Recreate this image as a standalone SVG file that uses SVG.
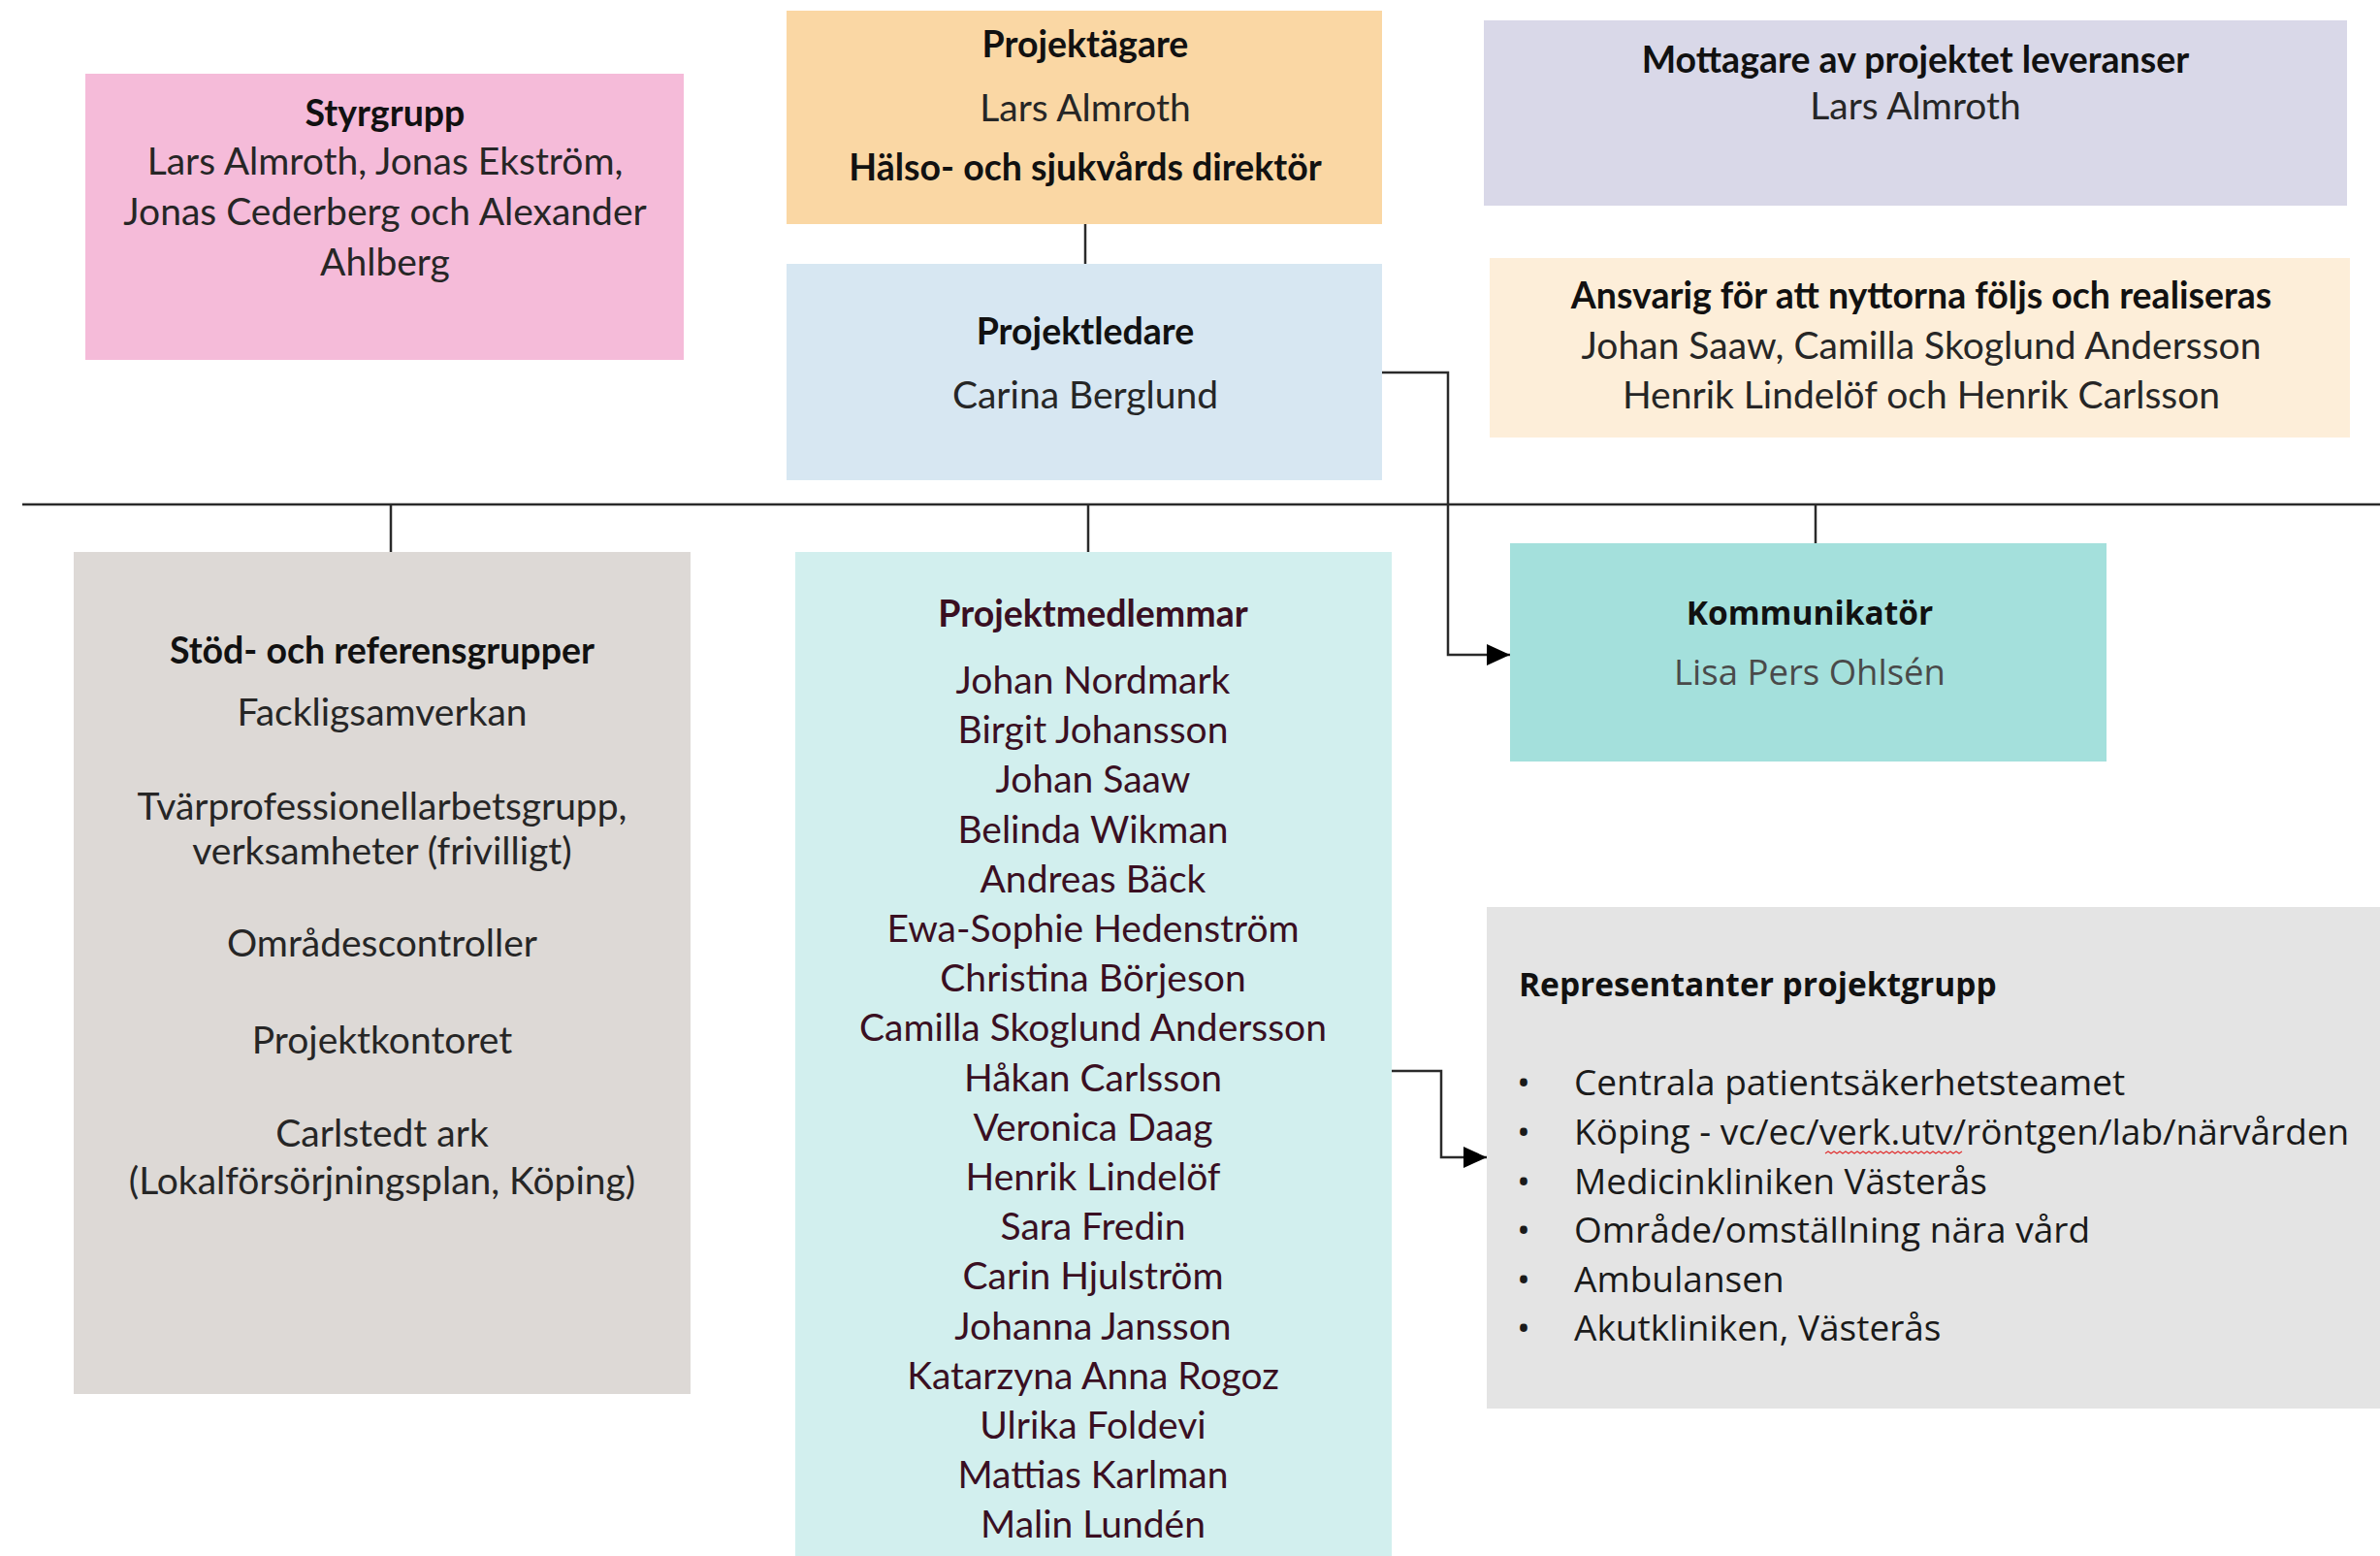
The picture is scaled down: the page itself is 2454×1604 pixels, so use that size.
<svg xmlns="http://www.w3.org/2000/svg" width="2454" height="1604" viewBox="0 0 2454 1604">
<defs>
<marker id="arr" viewBox="0 0 24 22" refX="24" refY="11" markerWidth="24" markerHeight="22" markerUnits="userSpaceOnUse" orient="auto">
<path d="M0,0 L24,11 L0,22 z" fill="#000"/>
</marker>
<style>
.c{font-family:Lato,"Liberation Sans",sans-serif;font-size:39px;fill:#262626;text-anchor:middle}
.cb{font-family:Lato,"Liberation Sans",sans-serif;font-size:37.5px;font-weight:bold;fill:#111;text-anchor:middle}
.s{font-family:"Open Sans","DejaVu Sans",sans-serif;font-size:37px;fill:#1a1a1a}
.sb{font-family:"Open Sans","DejaVu Sans",sans-serif;font-size:33.5px;font-weight:bold;fill:#111}
.pm{fill:#3a0f22}
.ln{stroke:#2a2a2a;stroke-width:2.5;fill:none}
</style>
</defs>
<rect width="2454" height="1604" fill="#fff"/>
<g id="connectors">
<line class="ln" x1="23" y1="520" x2="2454" y2="520"/>
<line class="ln" x1="1119" y1="222" x2="1119" y2="272"/>
<line class="ln" x1="403" y1="520" x2="403" y2="569"/>
<line class="ln" x1="1122" y1="520" x2="1122" y2="569"/>
<line class="ln" x1="1872" y1="520" x2="1872" y2="560"/>
<path class="ln" d="M1425,384 H1493 V675 H1557" marker-end="url(#arr)"/>
<path class="ln" d="M1435,1104 H1486 V1193 H1533" marker-end="url(#arr)"/>
</g>
<g id="styrgrupp">
<rect x="88" y="76" width="617" height="295" fill="#f5bbd9"/>
<text class="cb" x="397" y="130">Styrgrupp</text>
<text class="c" x="397" y="180">Lars Almroth, Jonas Ekström,</text>
<text class="c" x="397" y="232">Jonas Cederberg och Alexander</text>
<text class="c" x="397" y="284">Ahlberg</text>
</g>
<g id="projektagare">
<rect x="811" y="11" width="614" height="220" fill="#fad7a4"/>
<text class="cb" x="1119" y="59">Projektägare</text>
<text class="c" x="1119" y="125">Lars Almroth</text>
<text class="cb" x="1119" y="186">Hälso- och sjukvårds direktör</text>
</g>
<g id="projektledare">
<rect x="811" y="272" width="614" height="223" fill="#d7e7f2"/>
<text class="cb" x="1119" y="355">Projektledare</text>
<text class="c" x="1119" y="421">Carina Berglund</text>
</g>
<g id="mottagare">
<rect x="1530" y="21" width="890" height="191" fill="#d9d8e8"/>
<text class="cb" x="1975" y="75">Mottagare av projektet leveranser</text>
<text class="c" x="1975" y="123">Lars Almroth</text>
</g>
<g id="ansvarig">
<rect x="1536" y="266" width="887" height="185" fill="#fdeed9"/>
<text class="cb" x="1981" y="318">Ansvarig för att nyttorna följs och realiseras</text>
<text class="c" x="1981" y="370">Johan Saaw, Camilla Skoglund Andersson</text>
<text class="c" x="1981" y="421">Henrik Lindelöf och Henrik Carlsson</text>
</g>
<g id="stod">
<rect x="76" y="569" width="636" height="868" fill="#ddd9d6"/>
<text class="cb" x="394" y="684">Stöd- och referensgrupper</text>
<text class="c" x="394" y="748">Fackligsamverkan</text>
<text class="c" x="394" y="845">Tvärprofessionellarbetsgrupp,</text>
<text class="c" x="394" y="891">verksamheter (frivilligt)</text>
<text class="c" x="394" y="986">Områdescontroller</text>
<text class="c" x="394" y="1086">Projektkontoret</text>
<text class="c" x="394" y="1182">Carlstedt ark</text>
<text class="c" x="394" y="1231">(Lokalförsörjningsplan, Köping)</text>
</g>
<g id="projektmedlemmar">
<rect x="820" y="569" width="615" height="1035" fill="#d2efee"/>
<text class="cb pm" x="1127" y="646">Projektmedlemmar</text>
<text class="c pm" x="1127" y="715">Johan Nordmark</text>
<text class="c pm" x="1127" y="766">Birgit Johansson</text>
<text class="c pm" x="1127" y="817">Johan Saaw</text>
<text class="c pm" x="1127" y="869">Belinda Wikman</text>
<text class="c pm" x="1127" y="920">Andreas Bäck</text>
<text class="c pm" x="1127" y="971">Ewa-Sophie Hedenström</text>
<text class="c pm" x="1127" y="1022">Christina Börjeson</text>
<text class="c pm" x="1127" y="1073">Camilla Skoglund Andersson</text>
<text class="c pm" x="1127" y="1125">Håkan Carlsson</text>
<text class="c pm" x="1127" y="1176">Veronica Daag</text>
<text class="c pm" x="1127" y="1227">Henrik Lindelöf</text>
<text class="c pm" x="1127" y="1278">Sara Fredin</text>
<text class="c pm" x="1127" y="1329">Carin Hjulström</text>
<text class="c pm" x="1127" y="1381">Johanna Jansson</text>
<text class="c pm" x="1127" y="1432">Katarzyna Anna Rogoz</text>
<text class="c pm" x="1127" y="1483">Ulrika Foldevi</text>
<text class="c pm" x="1127" y="1534">Mattias Karlman</text>
<text class="c pm" x="1127" y="1585">Malin Lundén</text>
</g>
<g id="kommunikator">
<rect x="1557" y="560" width="615" height="225" fill="#a4e0dc"/>
<text class="sb" x="1866" y="644" text-anchor="middle">Kommunikatör</text>
<text class="s" x="1866" y="706" text-anchor="middle" style="fill:#4a4a4a;font-size:36.5px">Lisa Pers Ohlsén</text>
</g>
<g id="representanter">
<rect x="1533" y="935" width="921" height="517" fill="#e4e4e4"/>
<text class="sb" x="1566" y="1027">Representanter projektgrupp</text>
<text class="s" x="1564" y="1129">•</text>
<text class="s" x="1623" y="1129">Centrala patientsäkerhetsteamet</text>
<text class="s" x="1564" y="1180">•</text>
<text class="s" x="1623" y="1180">Köping - vc/ec/verk.utv/röntgen/lab/närvården</text>
<text class="s" x="1564" y="1231">•</text>
<text class="s" x="1623" y="1231">Medicinkliniken Västerås</text>
<text class="s" x="1564" y="1281">•</text>
<text class="s" x="1623" y="1281">Område/omställning nära vård</text>
<text class="s" x="1564" y="1332">•</text>
<text class="s" x="1623" y="1332">Ambulansen</text>
<text class="s" x="1564" y="1382">•</text>
<text class="s" x="1623" y="1382">Akutkliniken, Västerås</text>
<path d="M1882,1189 l3,-2 l3,2 l3,-2 l3,2 l3,-2 l3,2 l3,-2 l3,2 l3,-2 l3,2 l3,-2 l3,2 l3,-2 l3,2 l3,-2 l3,2 l3,-2 l3,2 l3,-2 l3,2 l3,-2 l3,2 l3,-2 l3,2 l3,-2 l3,2 l3,-2 l3,2 l3,-2 l3,2 l3,-2 l3,2 l3,-2 l3,2 l3,-2 l3,2 l3,-2 l3,2 l3,-2 l3,2 l3,-2 l3,2 l3,-2 l3,2 l3,-2 l3,2 l3,-2" fill="none" stroke="#e03030" stroke-width="1.2"/>
</g>
</svg>
